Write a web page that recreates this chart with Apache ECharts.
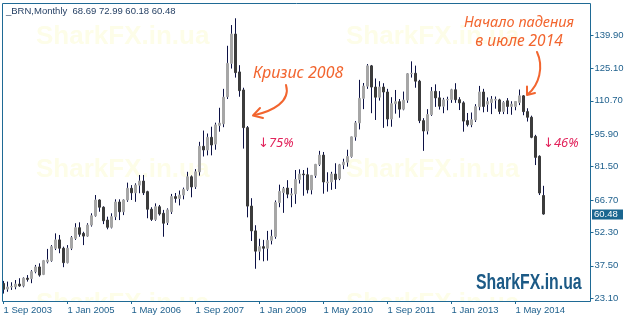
<!DOCTYPE html>
<html><head><meta charset="utf-8">
<script src="https://cdn.jsdelivr.net/npm/echarts@6/dist/echarts.min.js"></script>
<style>html,body{margin:0;padding:0;background:#fff}#c{width:630px;height:318px}</style>
</head><body><div id="c"></div>
<script>
// ---------- DATA ----------
const symbolName = '_BRN,Monthly';
const startYear = 2003, startMonth = 8; // September 2003 (0-based month)
const monthNames = ['Jan','Feb','Mar','Apr','May','Jun','Jul','Aug','Sep','Oct','Nov','Dec'];

// monthly OHLC, Sep 2003 .. Dec 2014
const opens = [
 29.7,27.2,28.1,28.2,
 29.4,28.6,32.0,31.8,34.9,37.0,33.7,39.3,39.8,45.3,49.0,45.3,
 38.9,45.3,49.7,54.4,51.9,50.7,55.6,59.7,66.7,63.5,57.8,54.6,
 59.3,65.8,61.5,66.7,71.9,69.9,73.3,75.1,70.4,62.6,58.1,63.7,
 60.8,56.7,61.5,68.2,67.4,68.9,71.4,77.0,72.6,79.2,90.5,88.9,
 94.5,91.5,99.8,100.5,112.5,127.3,140.3,123.5,115.5,98.8,64.0,53.0,
 44.0,46.0,45.3,48.8,50.5,65.6,70.0,72.0,68.9,69.4,75.8,78.2,
 77.9,71.2,77.6,82.5,86.6,74.3,74.7,78.2,76.2,82.3,83.5,86.0,
 94.7,100.9,111.8,117.2,126.2,116.8,112.3,116.8,114.6,102.6,109.4,110.3,
 107.0,111.0,122.7,122.9,119.4,101.9,97.3,104.6,114.9,112.0,108.3,111.1,
 111.3,115.6,111.2,109.8,101.9,100.1,102.2,108.1,114.6,109.2,109.9,111.0,
 111.1,106.0,110.7,108.2,108.2,110.0,112.9,105.9,103.4,94.9,86.1,68.69
];
const highs = [
 30.8,30.5,30.2,31.2,
 32.0,32.4,33.4,35.6,37.9,38.6,40.1,45.0,46.7,51.9,51.2,46.0,
 46.7,50.7,56.4,56.8,52.6,56.4,60.8,68.9,67.0,63.9,59.3,60.8,
 67.0,67.0,67.0,74.4,73.3,74.1,77.8,77.8,70.8,63.5,65.2,64.5,
 62.3,63.0,69.4,69.8,70.9,72.2,79.2,77.6,80.4,92.5,97.5,96.2,
 99.2,101.0,107.6,116.0,135.1,144.3,147.3,126.5,116.5,99.5,67.5,55.5,
 49.5,49.0,53.0,53.5,66.5,73.5,72.5,75.5,72.0,80.0,80.3,80.0,
 81.0,77.8,82.7,88.5,88.0,79.0,79.2,83.0,82.7,85.0,89.0,94.8,
 101.7,120.0,118.6,127.0,126.6,120.6,119.4,118.5,116.0,112.3,115.5,111.5,
 114.8,123.0,128.2,126.3,120.0,103.0,107.0,116.8,118.0,115.0,112.0,112.5,
 116.0,118.5,112.3,110.5,105.3,105.5,109.2,117.3,116.0,112.2,112.8,112.6,
 111.6,110.5,111.9,110.5,110.6,115.7,113.2,107.4,104.1,95.6,86.5,72.99
];
const lows = [
 25.2,26.0,26.8,27.1,
 28.2,28.0,30.5,29.8,34.2,32.7,33.4,38.6,39.3,44.5,43.1,36.9,
 38.6,44.5,49.0,50.4,46.7,50.4,54.9,59.3,61.5,56.0,53.7,54.1,
 57.8,57.8,60.0,65.9,66.7,65.9,69.7,68.9,58.6,57.4,57.5,59.8,
 50.4,55.6,60.5,65.5,64.3,67.0,70.8,67.9,71.6,77.5,86.0,86.5,
 86.5,89.0,97.0,99.0,111.5,125.0,121.0,112.5,89.5,59.0,48.5,36.2,
 40.0,39.5,39.8,47.0,49.5,63.5,61.0,67.5,63.5,65.0,74.0,68.6,
 69.6,69.2,76.5,81.8,69.5,70.4,71.2,71.6,75.5,80.4,81.5,85.5,
 93.0,98.0,107.0,116.0,105.2,102.2,110.8,98.7,99.4,99.2,105.0,103.2,
 106.5,109.8,121.0,116.5,100.8,88.5,95.8,104.0,108.0,106.8,105.2,106.5,
 109.8,109.8,106.6,97.0,99.3,99.0,101.3,106.5,105.6,105.8,104.8,107.2,
 104.8,104.8,104.8,104.5,106.5,108.8,104.3,101.5,94.1,82.2,68.9,60.18
];
const closes = [
 27.1,28.1,28.4,29.4,
 28.6,32.0,31.5,34.9,37.0,33.4,39.8,40.1,46.0,49.0,45.3,38.9,
 45.3,50.0,54.4,51.5,50.7,55.6,59.7,66.7,63.5,57.5,54.6,59.3,
 65.8,61.5,66.7,71.9,69.9,73.3,75.1,69.9,62.6,58.1,63.7,60.5,
 56.4,62.3,68.2,67.4,68.9,71.4,77.0,72.5,79.2,90.5,88.9,94.5,
 91.1,100.0,100.8,112.3,127.3,140.3,123.2,115.2,98.8,64.0,53.0,44.0,
 46.0,45.3,48.8,50.6,65.6,70.5,71.7,69.3,69.4,75.8,78.2,77.9,
 71.2,77.6,82.5,86.6,74.7,74.7,78.2,75.8,82.3,83.5,86.0,94.7,
 100.9,111.8,117.2,126.2,116.8,112.3,116.8,114.6,102.6,109.4,110.3,107.0,
 111.0,122.7,122.9,119.4,101.9,97.3,104.6,114.9,112.0,108.3,111.1,111.3,
 115.6,111.2,109.8,101.7,100.1,102.3,108.1,114.6,108.2,110.4,111.4,111.3,
 106.0,109.9,108.2,109.2,110.4,112.9,105.9,103.4,94.5,85.6,69.8,60.48
];
const yTickValues = [23.10, 37.50, 52.30, 66.70, 81.50, 95.90, 110.70, 125.10, 139.90];
const xTickLabels = ['1 Sep 2003','1 Jan 2005','1 May 2006','1 Sep 2007','1 Jan 2009','1 May 2010','1 Sep 2011','1 Jan 2013','1 May 2014'];
const blankSlots = 11; // empty space right of the last bar

// ---------- BUILD ----------
const categories = [];
for (let i = 0; i < opens.length + blankSlots; i++) {
  if (i < opens.length) {
    const k = startMonth + i;
    categories.push('1 ' + monthNames[k % 12] + ' ' + (startYear + Math.floor(k / 12)));
  } else categories.push('');
}
const wickData = opens.map((o, i) => [o, closes[i], lows[i], highs[i]]);
const bodyData = opens.map((o, i) => [o, closes[i], Math.min(o, closes[i]), Math.max(o, closes[i])]);
const last = opens.length - 1;
const titleText = symbolName + '  ' + [opens[last], highs[last], lows[last], closes[last]].map(v => v.toFixed(2)).join(' ');

const frameColor = '#1f6a95';
const labelColor = '#1d5f8c';
const bull = '#a6a6a6', bear = '#3c3c3c', wick = '#0c1145';
const orange = '#f2652f', crimson = '#e2245c';
const uiFont = "'Liberation Sans', Arial, sans-serif";
const noteFont = "'Noto Sans', 'DejaVu Sans', sans-serif";

const wm = (x, y) => ({type:'text', z:0, style:{text:'SharkFX.in.ua', x:x, y:y, fill:'#fdfde8',
  font:"bold 26px 'Liberation Sans', Arial, sans-serif", verticalAlign:'middle'}});

const chart = echarts.init(document.getElementById('c'), null, {renderer:'canvas'});
const baseGraphics = [
    wm(36, 37), wm(346, 37), wm(36, 170), wm(346, 170), wm(36, 304), wm(346, 304),
    {type:'rect', z:1, shape:{x:0, y:302, width:592, height:16}, style:{fill:'#ffffff'}},
    {type:'rect', z:20, shape:{x:2.5, y:3.5, width:588, height:298}, style:{fill:'none', stroke:frameColor, lineWidth:1}},
    {type:'text', z:20, style:{text:titleText, x:6, y:11, verticalAlign:'middle', fill:'#1e3a5f',
      font:"9.5px 'Liberation Sans', Arial, sans-serif"}},
    {type:'text', z:20, x:476, y:283, scaleX:0.72, style:{text:'SharkFX.in.ua', x:0, y:0, verticalAlign:'middle', fill:'#1c5a86',
      font:"bold 22px 'Liberation Sans', Arial, sans-serif",
      shadowColor:'rgba(0,0,0,0.35)', shadowOffsetX:2, shadowOffsetY:1, shadowBlur:1}},
    // annotations
    {type:'text', z:20, style:{text:'Кризис 2008', x:253, y:73, verticalAlign:'middle', fill:orange,
      font:"italic 16px " + noteFont}},
    {type:'text', z:20, style:{text:'↓75%', x:258, y:143, verticalAlign:'middle', fill:crimson,
      font:"italic 13px " + noteFont}},
    {type:'text', z:20, style:{text:'Начало падения', x:519, y:23, align:'center', verticalAlign:'middle', fill:orange,
      font:"italic 14.5px " + noteFont}},
    {type:'text', z:20, style:{text:'в июле 2014', x:519, y:42, align:'center', verticalAlign:'middle', fill:orange,
      font:"italic 15.5px " + noteFont}},
    {type:'text', z:20, style:{text:'↓46%', x:543, y:143, verticalAlign:'middle', fill:crimson,
      font:"italic 13px " + noteFont}},
    {type:'bezierCurve', z:20, shape:{x1:286, y1:85, cpx1:291, cpy1:102, cpx2:272, cpy2:111, x2:255, y2:115},
      style:{stroke:orange, lineWidth:2, fill:'none', lineCap:'round'}},
    {type:'polyline', z:20, shape:{points:[[260,108],[253,115.5],[263,118]]},
      style:{stroke:orange, lineWidth:2, fill:'none', lineCap:'round', lineJoin:'round'}},
    {type:'bezierCurve', z:20, shape:{x1:537, y1:52, cpx1:544, cpy1:67, cpx2:539, cpy2:85, x2:528, y2:94},
      style:{stroke:orange, lineWidth:2, fill:'none', lineCap:'round'}},
    {type:'polyline', z:20, shape:{points:[[527,86.5],[527,95],[535,93]]},
      style:{stroke:orange, lineWidth:2, fill:'none', lineCap:'round', lineJoin:'round'}}
];
chart.setOption({
  animation:false,
  backgroundColor:'#ffffff',
  grid:{left:1.5, top:3, width:588, height:298, show:false},
  xAxis:{
    type:'category', data:categories, boundaryGap:true, z:5,
    axisLine:{show:false},
    axisTick:{show:true, alignWithLabel:true, length:3, interval:(i, v) => xTickLabels.includes(v),
      lineStyle:{color:frameColor}},
    axisLabel:{interval:(i, v) => xTickLabels.includes(v), align:'left', margin:4, color:labelColor,
      fontSize:9.5, fontFamily:uiFont},
    splitLine:{show:false}
  },
  yAxis:{
    type:'value', position:'right', offset:1, min:21.9, max:154.08, z:5,
    axisLine:{show:false}, splitLine:{show:false},
    axisTick:{show:true, length:3, customValues:yTickValues, lineStyle:{color:frameColor}},
    axisLabel:{customValues:yTickValues, formatter:v => v.toFixed(2), margin:4, color:labelColor,
      fontSize:9.5, fontFamily:uiFont}
  },
  series:[
    {type:'candlestick', name:'wick', data:wickData, barWidth:1, z:2, silent:true,
     itemStyle:{color:wick, color0:wick, borderColor:wick, borderColor0:wick, borderColorDoji:wick, borderWidth:1}},
    {type:'candlestick', name:'body', data:bodyData, barWidth:2, z:3, silent:true,
     itemStyle:{color:bull, color0:bear, borderColor:bull, borderColor0:bear, borderColorDoji:bull, borderWidth:1}}
  ],
  graphic:baseGraphics
});
// current price tag on the right axis, positioned through the y scale
const py = chart.convertToPixel({yAxisIndex:0}, closes[last]);
chart.setOption({graphic: baseGraphics.concat([
  {type:'rect', z:21, shape:{x:592, y:Math.round(py) - 4.5, width:31, height:10}, style:{fill:'#1a6690'}},
  {type:'text', z:22, style:{text:closes[last].toFixed(2), x:594, y:Math.round(py) + 0.5, verticalAlign:'middle',
    fill:'#ffffff', font:"9.5px 'Liberation Sans', Arial, sans-serif"}}
])});
</script>
</body></html>
